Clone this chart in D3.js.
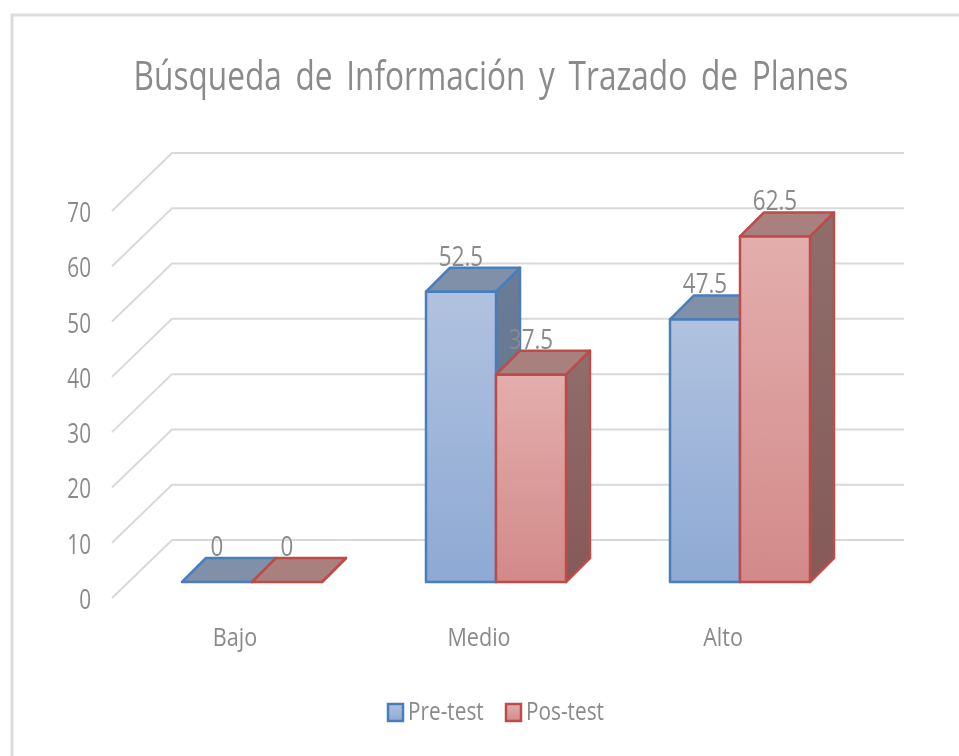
<!DOCTYPE html>
<html>
<head>
<meta charset="utf-8">
<script src="https://cdn.jsdelivr.net/npm/d3@7"></script>
<style>
	html, body { margin: 0; padding: 0; background: #fff; }
	svg { display: block; filter: blur(0.4px); }
	text { font-family: 'Open Sans', sans-serif; fill: #8a8a8a; }
</style>
</head>
<body>
<div id="chart"></div>
<script>
const title = 'Búsqueda de Información y Trazado de Planes';
const categories = ['Bajo', 'Medio', 'Alto'];
const seriesNames = ['Pre-test', 'Pos-test'];
const preTest = [0, 52.5, 47.5];
const posTest = [0, 37.5, 62.5];
const yTicks = [0, 10, 20, 30, 40, 50, 60, 70];

const width = 959,
	height = 756;

// 3d offsets of the fake perspective
const wall = { dx: 60, dy: -58 };
const barInset = { dx: 18, dy: -16 };
const barDepth = { dx: 24, dy: -24 };

const svg = d3
	.select('#chart')
	.append('svg')
	.attr('width', width)
	.attr('height', height);

const defs = svg.append('defs');

const colors = [
	{ stroke: '#4a7ebb', front: ['#b0c2df', '#8ea9d4'], top: '#8090a8', side: ['#6b7c95', '#5f7390'] },
	{ stroke: '#be4b48', front: ['#e3aead', '#d28a89'], top: '#a8807e', side: ['#8f6e6b', '#855a58'] },
];

colors.forEach((c, i) => {
	['front', 'side'].forEach(part => {
		const grad = defs
			.append('linearGradient')
			.attr('id', part + i)
			.attr('x1', 0)
			.attr('y1', 0)
			.attr('x2', 0)
			.attr('y2', 1);
		grad.append('stop').attr('offset', '0%').attr('stop-color', c[part][0]);
		grad.append('stop').attr('offset', '100%').attr('stop-color', c[part][1]);
	});
});

// the picture is squeezed sideways, so the text gets narrowed to fit
const condensed = (sel, x, y, factor) =>
	sel.attr('transform', 'translate(' + [x, y] + ') scale(' + factor + ',1)');

// frame, left and top edges only reach the picture
svg
	.append('path')
	.attr('d', 'M12,' + height + 'V15H' + width)
	.attr('fill', 'none')
	.attr('stroke', '#dcdcdc')
	.attr('stroke-width', 3);

condensed(
	svg
		.append('text')
		.attr('font-size', 40)
		.attr('text-anchor', 'middle')
		.attr('word-spacing', 7)
		.text(title),
	491,
	90,
	0.79
);

const x = d3.scaleBand().domain(categories).range([112, 844]);
const xSeries = d3
	.scaleBand()
	.domain(seriesNames)
	.range([x.step() / 2 - 70, x.step() / 2 + 70]);
const y = d3.scaleLinear().domain([0, 70]).range([598, 211]);

// grid: floor edge then back wall
const grid = svg.append('g');
grid
	.selectAll('path')
	.data(yTicks)
	.enter()
	.append('path')
	.attr('fill', 'none')
	.attr('stroke', '#d9d9d9')
	.attr('stroke-width', 2)
	.attr(
		'd',
		d =>
			'M' + [x.range()[0], y(d)] +
			'L' + [x.range()[0] + wall.dx, y(d) + wall.dy] +
			'H' + (x.range()[1] + wall.dx)
	);

const yAxis = svg.append('g');
yAxis
	.selectAll('text')
	.data(yTicks)
	.enter()
	.append('text')
	.attr('font-size', 28)
	.attr('text-anchor', 'end')
	.attr('transform', d => 'translate(' + [91, y(d) + 11] + ') scale(0.74,1)')
	.text(d => d);

const xAxis = svg.append('g');
xAxis
	.selectAll('text')
	.data(categories)
	.enter()
	.append('text')
	.attr('font-size', 26)
	.attr('text-anchor', 'middle')
	.attr(
		'transform',
		d => 'translate(' + [x(d) + x.bandwidth() / 2 + 1, 646] + ') scale(0.83,1)'
	)
	.text(d => d);

const bars = [];
categories.forEach((cat, i) => {
	[preTest, posTest].forEach((values, s) => {
		const x0 = x(cat) + barInset.dx + xSeries(seriesNames[s]);
		const yBase = y(0) + barInset.dy;
		const yTop = y(values[i]) + barInset.dy;
		bars.push({ x0, x1: x0 + xSeries.bandwidth(), yBase, yTop, s, value: values[i] });
	});
});

const barGroup = svg
	.append('g')
	.selectAll('g')
	.data(bars)
	.enter()
	.append('g')
	.attr('stroke', d => colors[d.s].stroke)
	.attr('stroke-width', 2.5)
	.attr('stroke-linejoin', 'round');

barGroup
	.append('path')
	.attr('fill', d => 'url(#side' + d.s + ')')
	.attr(
		'd',
		d =>
			'M' + [d.x1, d.yTop] +
			'L' + [d.x1 + barDepth.dx, d.yTop + barDepth.dy] +
			'L' + [d.x1 + barDepth.dx, d.yBase + barDepth.dy] +
			'L' + [d.x1, d.yBase] + 'Z'
	);

barGroup
	.append('path')
	.attr('fill', d => colors[d.s].top)
	.attr(
		'd',
		d =>
			'M' + [d.x0, d.yTop] +
			'L' + [d.x0 + barDepth.dx, d.yTop + barDepth.dy] +
			'L' + [d.x1 + barDepth.dx, d.yTop + barDepth.dy] +
			'L' + [d.x1, d.yTop] + 'Z'
	);

barGroup
	.filter(d => d.value > 0)
	.append('rect')
	.attr('fill', d => 'url(#front' + d.s + ')')
	.attr('x', d => d.x0)
	.attr('y', d => d.yTop)
	.attr('width', d => d.x1 - d.x0)
	.attr('height', d => d.yBase - d.yTop);

svg
	.append('g')
	.selectAll('text')
	.data(bars)
	.enter()
	.append('text')
	.attr('font-size', 28)
	.attr('text-anchor', 'middle')
	.attr(
		'transform',
		d => 'translate(' + [(d.x0 + d.x1) / 2, d.yTop - 26] + ') scale(0.8,1)'
	)
	.text(d => d.value);

// legend
const legendX = d3.scaleOrdinal().domain(seriesNames).range([388, 506]);
const legend = svg
	.append('g')
	.selectAll('g')
	.data(seriesNames)
	.enter()
	.append('g')
	.attr('transform', d => 'translate(' + [legendX(d), 704] + ')');

legend
	.append('rect')
	.attr('width', 15)
	.attr('height', 17)
	.attr('fill', (d, i) => 'url(#front' + i + ')')
	.attr('stroke', (d, i) => colors[i].stroke)
	.attr('stroke-width', 2.5);

legend
	.append('text')
	.attr('font-size', 26)
	.attr('transform', 'translate(20,16) scale(0.8,1)')
	.text(d => d);
</script>
</body>
</html>
